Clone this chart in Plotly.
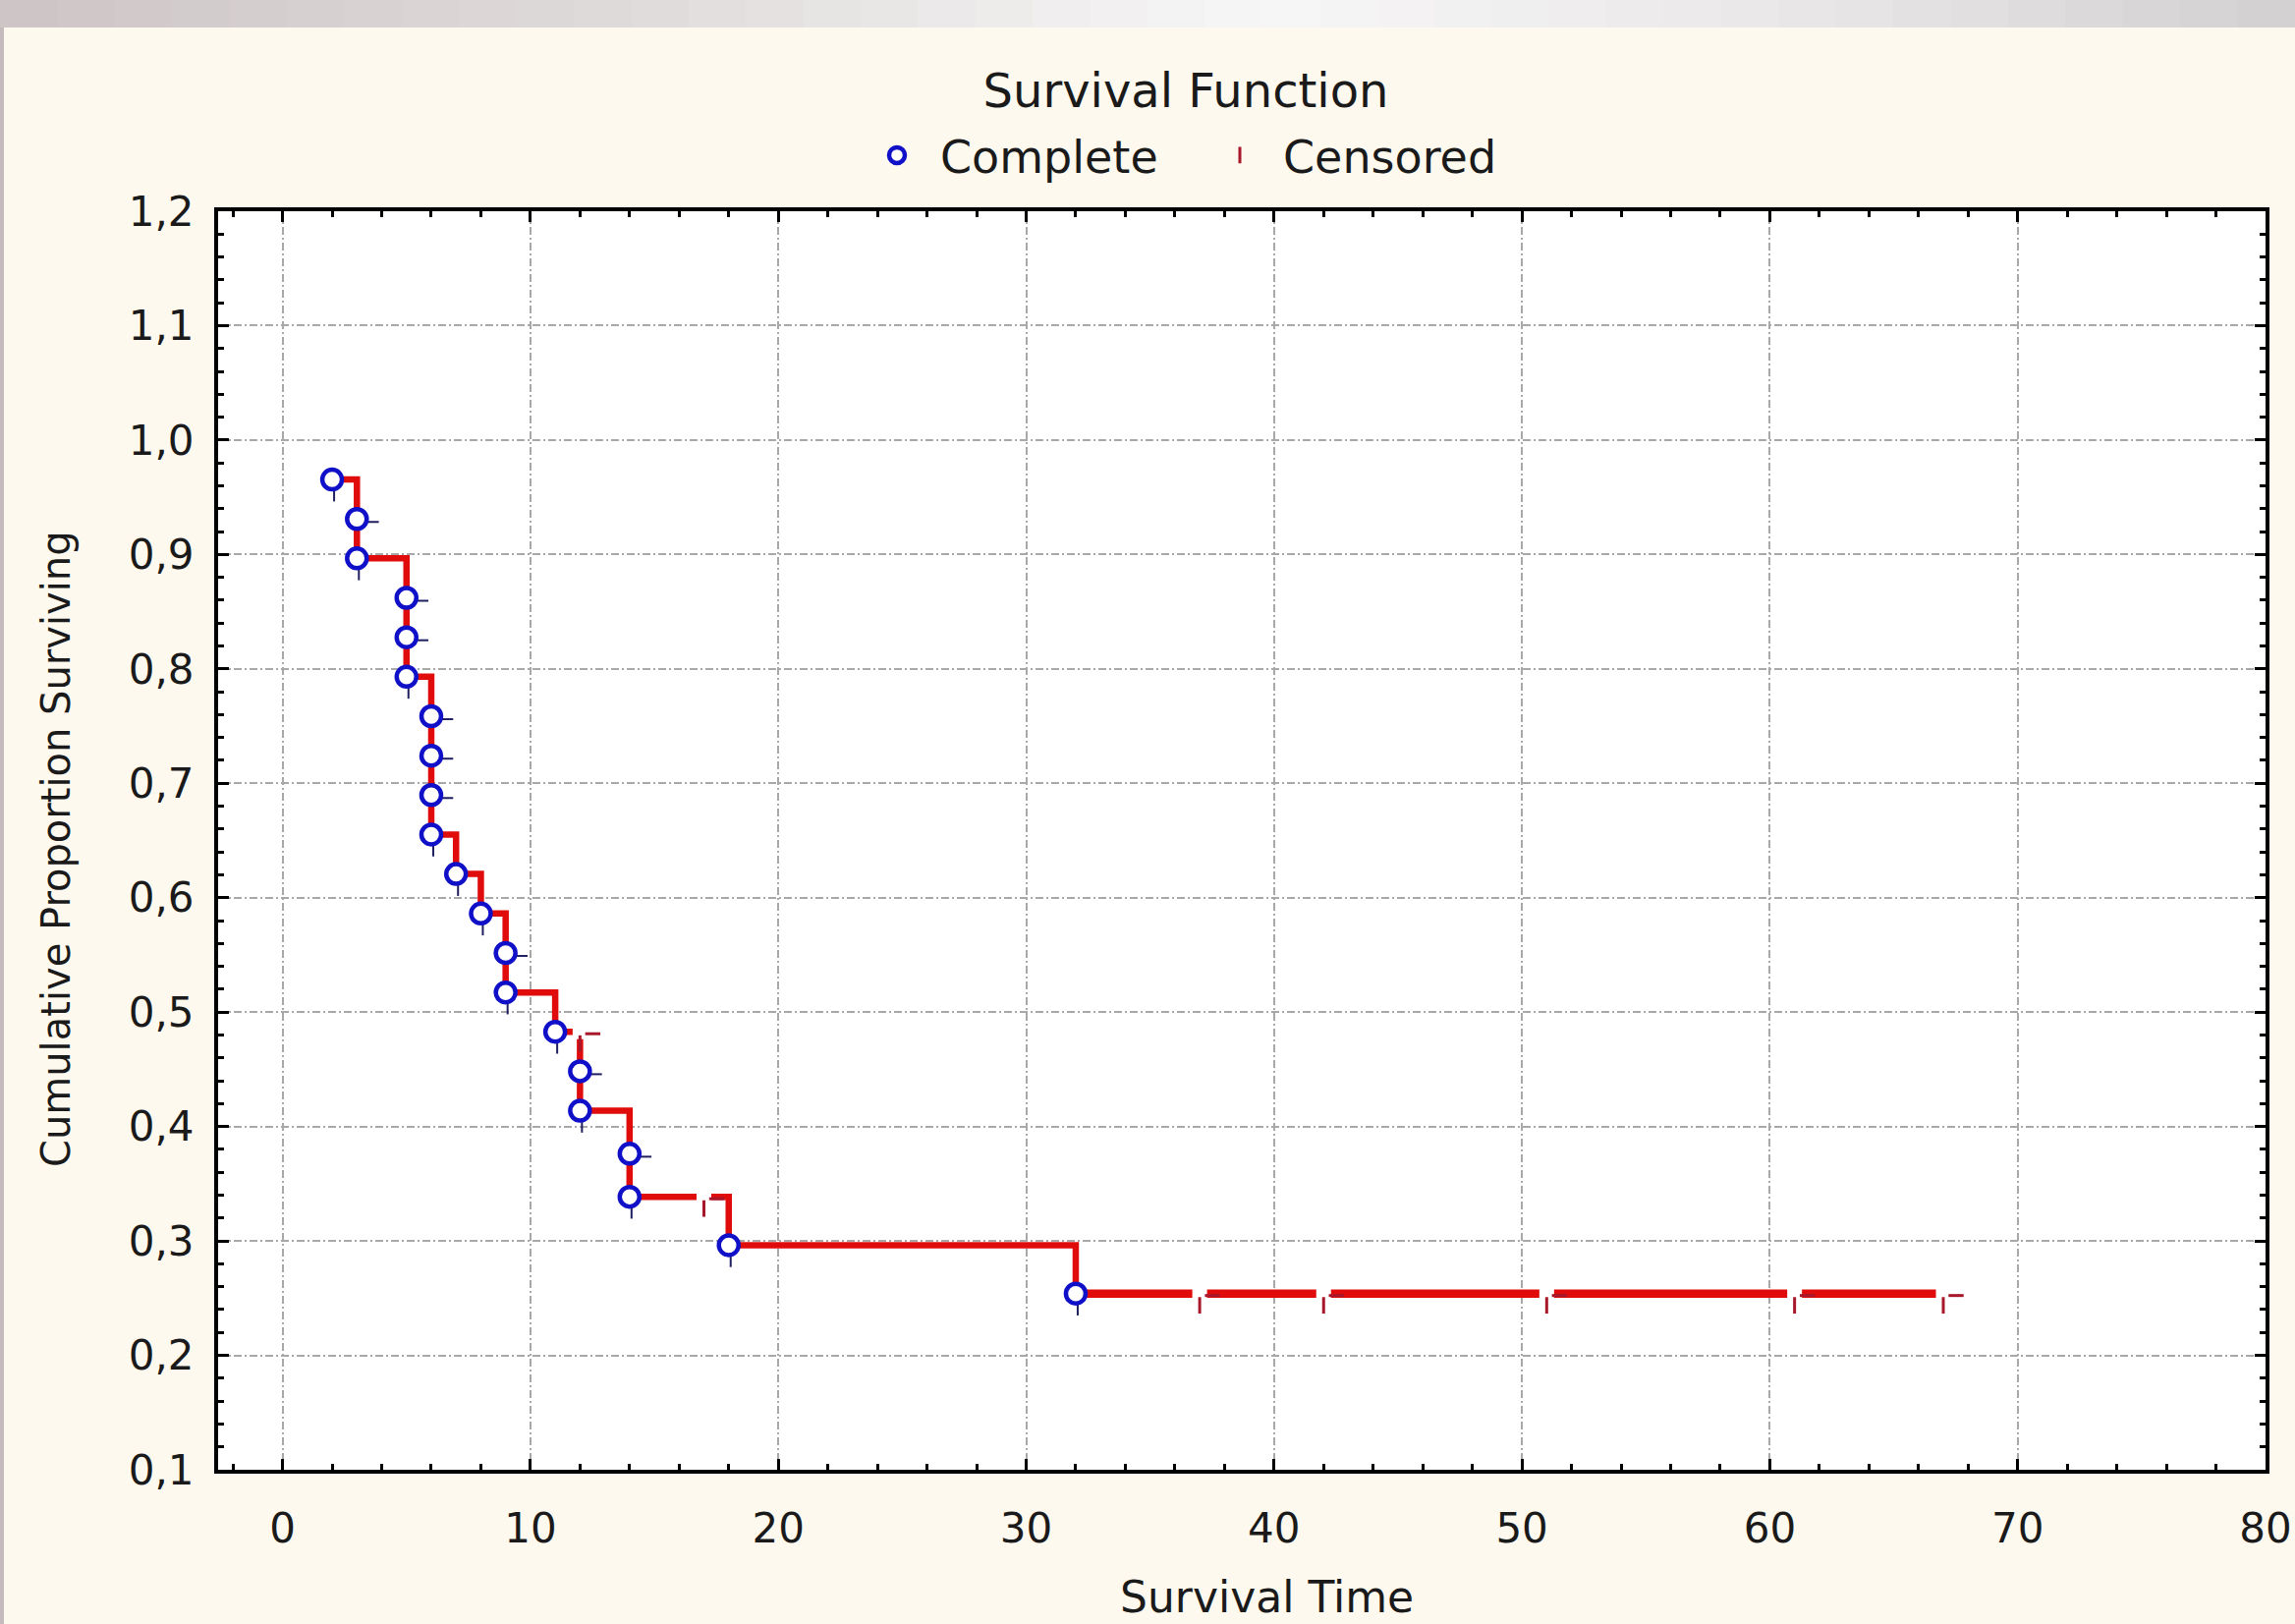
import plotly.graph_objects as go

# ---------------- data ----------------
event_times = [2, 3, 3, 5, 5, 5, 6, 6, 6, 6, 7, 8, 9, 9, 11, 12, 12, 14, 14, 18, 32]
event_surv = [0.9655, 0.9310, 0.8966, 0.8621, 0.8276, 0.7931, 0.7586, 0.7241, 0.6897,
              0.6552, 0.6207, 0.5862, 0.5517, 0.5172, 0.4828, 0.4483, 0.4138, 0.3762,
              0.3386, 0.2963, 0.2540]
cens_times = [12, 17, 37, 42, 51, 61, 67]
cens_surv = [0.4828, 0.3386, 0.2540, 0.2540, 0.2540, 0.2540, 0.2540]

x_ticks = [0, 10, 20, 30, 40, 50, 60, 70, 80]
y_ticks = [0.1, 0.2, 0.3, 0.4, 0.5, 0.6, 0.7, 0.8, 0.9, 1.0, 1.1, 1.2]

title_text = "Survival Function"
x_title = "Survival Time"
y_title = "Cumulative Proportion Surviving"

# ---------------- geometry / style ----------------
W, H = 2336, 1653
L, R, T, B = 222, 30, 215, 157
PW, PH = W - L - R, H - T - B
X_RANGE = [-2.6, 80]
Y_RANGE = [0.1, 1.2]
UX = (X_RANGE[1] - X_RANGE[0]) / PW   # data units per pixel
UY = (Y_RANGE[1] - Y_RANGE[0]) / PH

RED = "#E00C0C"
DARKRED = "#A8182A"
BLUE = "#1010C8"
NAVY = "#202060"
FONT = "DejaVu Sans"
TXT = "#1A1A1A"

# step line through all points (events + censored), sorted by time then level
pts = sorted(zip(event_times + cens_times, event_surv + cens_surv), key=lambda p: (p[0], -p[1]))
line_x = [p[0] for p in pts]
line_y = [p[1] for p in pts]

fig = go.Figure()

fig.add_trace(go.Scatter(x=line_x, y=line_y, mode="lines", line=dict(color=RED, width=6.5, shape="hv"),
                         showlegend=False, hoverinfo="skip"))
# thicker tail after last event
fig.add_trace(go.Scatter(x=[event_times[-1], cens_times[-1]], y=[event_surv[-1], event_surv[-1]],
                         mode="lines", line=dict(color=RED, width=8.5), showlegend=False, hoverinfo="skip"))

# censored marks: white gap, tick below, dash to the right
fig.add_trace(go.Scatter(x=cens_times, y=cens_surv, mode="markers",
                         marker=dict(symbol="square", size=15, color="white", line=dict(width=0)),
                         showlegend=False, hoverinfo="skip"))
fig.add_trace(go.Scatter(x=cens_times, y=[s - 12 * UY for s in cens_surv], mode="markers",
                         marker=dict(symbol="line-ns", size=12, line=dict(color=DARKRED, width=3)),
                         name="Censored", legendrank=2))
fig.add_trace(go.Scatter(x=[t + 13 * UX for t in cens_times], y=[s - 2 * UY for s in cens_surv],
                         mode="markers",
                         marker=dict(symbol="line-ew", size=11, line=dict(color=DARKRED, width=3)),
                         showlegend=False, hoverinfo="skip"))

# small ticks attached to complete points
last_idx = {t: i for i, t in enumerate(event_times)}
below_x, below_y, right_x, right_y = [], [], [], []
for i, (t, s) in enumerate(zip(event_times, event_surv)):
    if last_idx[t] == i:
        below_x.append(t + 2 * UX)
        below_y.append(s - 16 * UY)
    else:
        right_x.append(t + 16 * UX)
        right_y.append(s - 3 * UY)
fig.add_trace(go.Scatter(x=below_x, y=below_y, mode="markers",
                         marker=dict(symbol="line-ns", size=9, line=dict(color=NAVY, width=2)),
                         showlegend=False, hoverinfo="skip"))
fig.add_trace(go.Scatter(x=right_x, y=right_y, mode="markers",
                         marker=dict(symbol="line-ew", size=9, line=dict(color=NAVY, width=2)),
                         showlegend=False, hoverinfo="skip"))

fig.add_trace(go.Scatter(x=event_times, y=event_surv, mode="markers",
                         marker=dict(symbol="circle", size=20, color="white",
                                     line=dict(color=BLUE, width=4.5)),
                         name="Complete", legendrank=1))

# ---------------- decorations (window bar, left border) ----------------
shapes = []
bar_top = 1 + T / PH
bar_bot = 1 + (T - 28) / PH
x0p, x1p = -L / PW, 1 + R / PW
stops = [(0.0, (206, 197, 197)), (0.3, (226, 222, 222)), (0.55, (248, 247, 247)),
         (0.8, (232, 230, 230)), (1.0, (210, 208, 208))]
n = 40
for k in range(n):
    f = (k + 0.5) / n
    for j in range(len(stops) - 1):
        if stops[j][0] <= f <= stops[j + 1][0]:
            a, ca = stops[j]
            b, cb = stops[j + 1]
            u = (f - a) / (b - a)
            c = tuple(int(ca[m] + (cb[m] - ca[m]) * u) for m in range(3))
            break
    shapes.append(dict(type="rect", xref="paper", yref="paper",
                       x0=x0p + (x1p - x0p) * k / n, x1=x0p + (x1p - x0p) * (k + 1) / n + 0.001,
                       y0=bar_bot, y1=bar_top, line=dict(width=0),
                       fillcolor="rgb(%d,%d,%d)" % c, layer="below"))
shapes.append(dict(type="rect", xref="paper", yref="paper", x0=x0p, x1=x0p + 4 / PW,
                   y0=-B / PH, y1=bar_bot, line=dict(width=0), fillcolor="#C4BCBC", layer="below"))

axis_common = dict(
    showline=True, linecolor="black", linewidth=4, mirror="allticks",
    ticks="inside", ticklen=11, tickwidth=3, tickcolor="black",
    showgrid=True, gridcolor="#A8A8A8", gridwidth=1.5, griddash="8px,3px,2px,3px",
    zeroline=False, tickfont=dict(family=FONT, size=42, color=TXT),
)

fig.update_layout(
    width=W, height=H,
    margin=dict(l=L, r=R, t=T, b=B, autoexpand=False),
    paper_bgcolor="#FDF9EF", plot_bgcolor="white",
    separators=",.",
    title=dict(text=title_text, x=1207 / W, xanchor="center", y=1 - 92 / H, yanchor="middle",
               font=dict(family=FONT, size=48, color=TXT)),
    xaxis=dict(range=X_RANGE, tickmode="array", tickvals=x_ticks, ticklabelstandoff=20,
               minor=dict(dtick=2, tick0=0, ticks="inside", ticklen=6, tickwidth=3, tickcolor="black",
                          showgrid=False),
               **axis_common),
    yaxis=dict(range=Y_RANGE, tickmode="array", tickvals=y_ticks, tickformat=".1f",
               ticklabelstandoff=12,
               minor=dict(dtick=0.02, tick0=0.1, ticks="inside", ticklen=6, tickwidth=3,
                          tickcolor="black", showgrid=False),
               **axis_common),
    legend=dict(orientation="h", x=(1218 - L) / PW, xanchor="center", y=1 + (T - 158) / PH,
                yanchor="middle", font=dict(family=FONT, size=46, color=TXT),
                bgcolor="rgba(0,0,0,0)", itemwidth=78, entrywidth=256, entrywidthmode="pixels",
                traceorder="normal"),
    shapes=shapes,
    annotations=[
        dict(text=x_title, xref="paper", yref="paper", x=(1289 - L) / PW, y=-B / PH,
             xanchor="center", yanchor="bottom", showarrow=False,
             font=dict(family=FONT, size=44, color=TXT)),
        dict(text=y_title, xref="paper", yref="paper", x=(57 - L) / PW, y=(T + PH - 864) / PH,
             xanchor="center", yanchor="middle", textangle=-90, showarrow=False,
             font=dict(family=FONT, size=40, color=TXT)),
    ],
)

fig.write_html("out.html", config={"displayModeBar": False},
               post_script="document.body.style.margin='0px';document.body.style.overflow='hidden';")
